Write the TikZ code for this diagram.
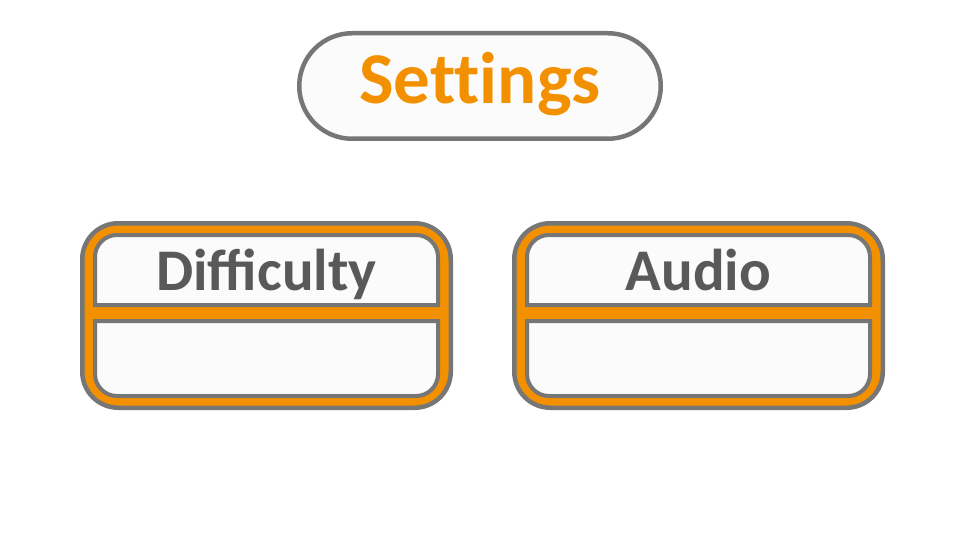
\documentclass[tikz,border=0pt]{standalone}
\usepackage{fontspec}
\setmainfont{Carlito}
\newfontfamily\titlefont{Carlito}[Ligatures=NoCommon]
\usetikzlibrary{shapes.misc}
\definecolor{rim}{HTML}{767676}
\definecolor{amber}{HTML}{F39000}
\definecolor{ink}{HTML}{595959}
\definecolor{paper}{HTML}{FBFBFB}
\tikzset{
  frame/.style={draw=rim, line width=4.5pt, fill=amber, rounded corners=36pt},
  panel/.style={draw=rim, line width=4pt, fill=paper},
  caption/.style={font=\bfseries\fontsize{59}{62}\selectfont, text=ink, inner sep=0pt, anchor=base},
  title/.style={font=\titlefont\bfseries\fontsize{73}{76}\selectfont, text=amber, inner sep=0pt, anchor=base},
  pill/.style={rounded rectangle, draw=rim, line width=4.5pt, fill=paper,
    minimum width=361.5pt, minimum height=105.5pt, inner sep=0pt},
}
% one option card: orange frame holding a header panel and an empty body panel
\newcommand{\optioncard}[3]{%
  \begin{scope}[xshift=#2]
    \draw[frame] (82.25,223.25) rectangle (450.75,407.75);
    \draw[panel] (95,305) -- (95,257) arc[start angle=180,end angle=270,radius=22]
      -- (416,235) arc[start angle=270,end angle=360,radius=22] -- (438,305) -- cycle;
    \draw[panel] (95,321) -- (438,321) -- (438,374) arc[start angle=0,end angle=90,radius=22]
      -- (117,396) arc[start angle=90,end angle=180,radius=22] -- cycle;
    \node[caption] (#1) at (266.5,290) {#3};
  \end{scope}}
\begin{document}
\begin{tikzpicture}[x=1pt,y=-1pt]
  \useasboundingbox (0,0) rectangle (960,540);
  \node[pill] (settingsbox) at (480,86) {};
  \node[title] (settings) at (480,104) {Settings};
  \optioncard{difficulty}{0pt}{Difficulty}
  \optioncard{audio}{432pt}{Audio}
\end{tikzpicture}
\end{document}
